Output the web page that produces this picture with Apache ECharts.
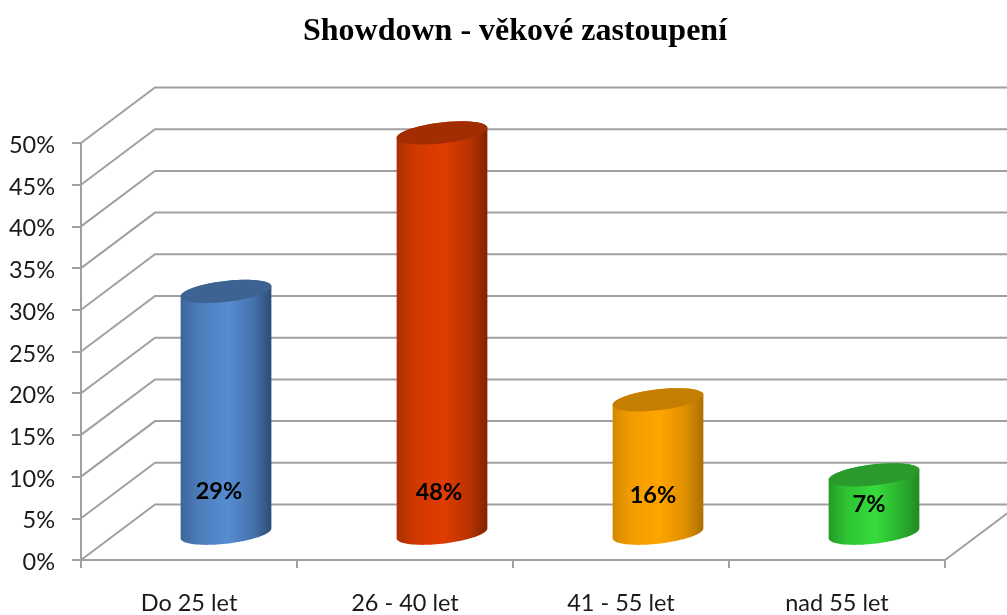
<!DOCTYPE html>
<html><head><meta charset="utf-8">
<style>html,body{margin:0;padding:0;background:#fff}#c{width:1007px;height:615px}</style>
<script src="https://cdn.jsdelivr.net/npm/echarts@6/dist/echarts.min.js"></script>
</head><body><div id="c"></div>
<script>
const categories = ['Do 25 let', '26 - 40 let', '41 - 55 let', 'nad 55 let'];
const values = [29, 48, 16, 7];
const yTicks = [0, 5, 10, 15, 20, 25, 30, 35, 40, 45, 50];
const titleText = 'Showdown - věkové zastoupení';

const DEPTH_X = 74, DEPTH_Y = -55.5, LINE = '#a0a0a0';
const PAL = [
  {top:'#3c6391', stops:['#3d659a','#4c7dba','#568cd2','#4573ab','#2d4c76']},
  {top:'#a22d00', stops:['#a93000','#cf3900','#e03c00','#b93200','#802400']},
  {top:'#c47f00', stops:['#d48800','#f29c00','#ffa500','#e08f00','#ad7000']},
  {top:'#2a9a2c', stops:['#239b27','#2ec433','#37dc3c','#2ab02e','#1f8a24']}
];
const LABEL_SHIFT = [[-7,-42],[-3,-41],[-5,-38],[-5,-29]];

function ellipse(cx, cy, a, b, s, from, to) {
  const pts = [];
  for (let i = 0; i <= 48; i++) {
    const t = from + (to - from) * i / 48;
    const c = Math.cos(t);
    pts.push([cx + a * c, cy + b * Math.sin(t) - s * c]);
  }
  return pts;
}
function renderWall(params, api) {
  const p = api.coord([0, api.value(1)]);
  const band = api.size([1, 0])[0];
  const x0 = p[0] - band / 2, y = p[1];
  const xb = x0 + DEPTH_X, yb = y + DEPTH_Y;
  const xr = x0 + band * categories.length + DEPTH_X;
  const children = [
    {type:'polyline', shape:{points:[[x0,y],[xb,yb],[xr,yb]]}, style:{fill:null, stroke:LINE, lineWidth:2}}
  ];
  if (api.value(1) === 0) {
    children.push({type:'line', shape:{x1:xr-DEPTH_X,y1:y,x2:xr,y2:yb}, style:{stroke:LINE, lineWidth:2}});
  }
  return {type:'group', children};
}
function renderCyl(params, api) {
  const i = api.value(0), v = api.value(1);
  const base = api.coord([i, 0]), top = api.coord([i, v]);
  const band = api.size([1, 0])[0];
  const cx = base[0] + DEPTH_X / 2, a = band * 0.21, b = 10.5, s = 5;
  const yB = base[1] + DEPTH_Y / 2 + 1, yT = top[1] + DEPTH_Y / 2 + 1;
  const pal = PAL[i];
  const body = ellipse(cx, yB, a, b, s, 0, Math.PI).concat(ellipse(cx, yT, a, b, s, Math.PI, 2 * Math.PI));
  const sh = LABEL_SHIFT[i];
  const grad = new echarts.graphic.LinearGradient(0, 0, 1, 0,
    pal.stops.map((c, k) => ({offset:[0,0.2,0.52,0.8,1][k], color:c})));
  return {type:'group', children:[
    {type:'polygon', shape:{points:body}, style:{fill:grad}},
    {type:'polygon', shape:{points:ellipse(cx, yT, a, b, s, 0, 2 * Math.PI)}, style:{fill:pal.top}},
    {type:'text', style:{text:v + '%', x:cx + sh[0], y:yB + sh[1], fill:'#000',
      font:'bold 23.5px Lato', align:'center', verticalAlign:'middle'}}
  ]};
}
const chart = echarts.init(document.getElementById('c'), null, {renderer:'canvas'});
chart.setOption({
  animation:false,
  backgroundColor:'#fff',
  title:{text:titleText, left:510, top:11, textAlign:'center',
    textStyle:{fontFamily:'Liberation Serif', fontWeight:'bold', fontSize:32, color:'#000'}},
  grid:{left:81, right:62, top:143, bottom:55, outerBoundsMode:'none'},
  xAxis:{type:'category', data:categories, boundaryGap:true,
    axisLine:{lineStyle:{color:LINE, width:2}},
    axisTick:{show:true, length:8, lineStyle:{color:LINE, width:2}},
    axisLabel:{interval:0, margin:31, fontFamily:'Lato', fontSize:23.5, color:'#1a1a1a'},
    splitLine:{show:false}},
  yAxis:{type:'value', min:0, max:50, interval:5,
    axisLine:{show:true, lineStyle:{color:LINE, width:2}},
    axisTick:{show:true, length:9, lineStyle:{color:LINE, width:2}},
    axisLabel:{margin:26, fontFamily:'Lato', fontSize:23.5, color:'#1a1a1a', formatter:'{value}%', verticalAlign:'top', lineHeight:5},
    splitLine:{show:false}},
  series:[
    {type:'custom', silent:true, clip:false, z:1, encode:{x:0,y:1},
     data:yTicks.map(t => [0, t]), renderItem:renderWall},
    {type:'custom', silent:true, clip:false, z:3, encode:{x:0,y:1},
     data:values.map((v, i) => [i, v]), renderItem:renderCyl}
  ]
});
</script></body></html>
